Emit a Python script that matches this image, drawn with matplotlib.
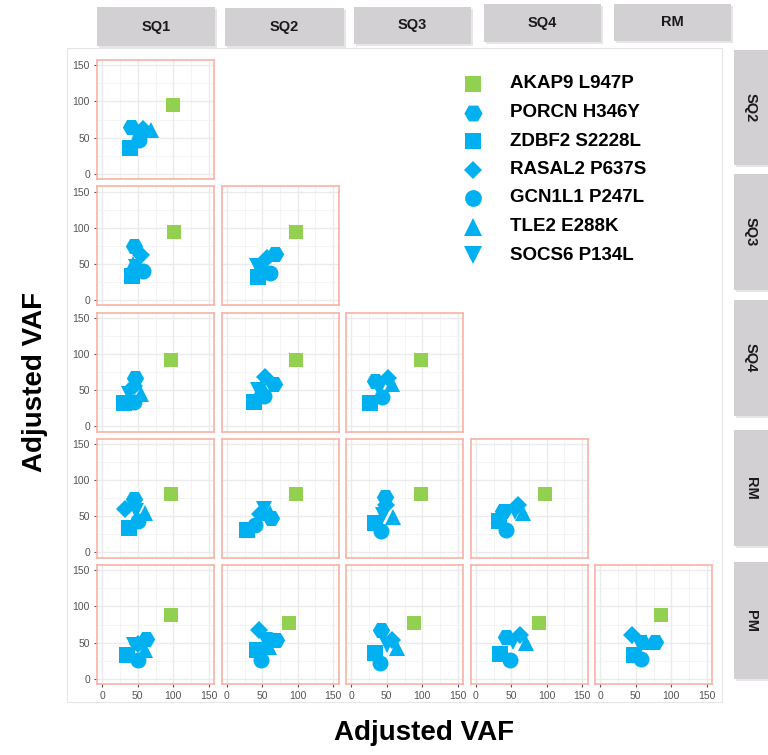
import matplotlib.pyplot as plt
from matplotlib.patches import Rectangle

plt.rcParams['font.family'] = ['Liberation Sans', 'DejaVu Sans']

# samples on the facet columns (x) and rows (y)
col_samples = ['SQ1', 'SQ2', 'SQ3', 'SQ4', 'RM']
row_samples = ['SQ2', 'SQ3', 'SQ4', 'RM', 'PM']

mutations = ['AKAP9 L947P', 'PORCN H346Y', 'ZDBF2 S2228L', 'RASAL2 P637S',
             'GCN1L1 P247L', 'TLE2 E288K', 'SOCS6 P134L']
shapes = ['s', 'H', 's', 'D', 'o', '^', 'v']
sizes = [10.5, 12.5, 11, 8.8, 11.5, 12, 12]
colors = ['#92D050'] + ['#00B0F0'] * 6

# adjusted VAF pairs (x sample, y sample), one point per mutation in the order above
sq2_sq1 = [(100, 95), (41, 65), (39, 36), (57, 62), (52, 46), (68, 60), (48, 55)]
sq3_sq1 = [(101, 94), (45, 74), (42, 33), (55, 62), (58, 40), (43, 50), (48, 46)]
sq3_sq2 = [(97, 94), (68, 63), (44, 32), (56, 58), (61, 37), (49, 53), (42, 47)]
sq4_sq1 = [(97, 92), (46, 67), (30, 32), (44, 56), (44, 33), (55, 44), (37, 44)]
sq4_sq2 = [(97, 92), (66, 58), (38, 33), (54, 68), (52, 42), (50, 55), (44, 50)]
sq4_sq3 = [(98, 92), (33, 62), (27, 32), (52, 66), (43, 40), (57, 58), (39, 51)]
rm_sq1 = [(97, 81), (44, 74), (37, 34), (32, 60), (51, 44), (60, 55), (48, 58)]
rm_sq2 = [(97, 81), (63, 47), (29, 31), (47, 53), (40, 38), (61, 55), (52, 60)]
rm_sq3 = [(98, 81), (47, 77), (33, 41), (49, 65), (42, 29), (59, 49), (45, 52)]
rm_sq4 = [(97, 81), (39, 58), (32, 44), (60, 65), (43, 31), (66, 54), (55, 56)]
pm_sq1 = [(97, 88), (62, 55), (35, 33), (51, 48), (51, 26), (60, 40), (44, 46)]
pm_sq2 = [(88, 77), (70, 53), (42, 40), (46, 67), (48, 26), (59, 44), (54, 53)]
pm_sq3 = [(88, 77), (42, 67), (34, 36), (57, 53), (41, 22), (64, 43), (50, 46)]
pm_sq4 = [(89, 77), (43, 57), (34, 34), (62, 60), (48, 26), (71, 49), (53, 51)]
pm_rm = [(85, 88), (77, 51), (47, 33), (44, 60), (58, 27), (65, 51), (54, 49)]

panels = [
    [sq2_sq1],
    [sq3_sq1, sq3_sq2],
    [sq4_sq1, sq4_sq2, sq4_sq3],
    [rm_sq1, rm_sq2, rm_sq3, rm_sq4],
    [pm_sq1, pm_sq2, pm_sq3, pm_sq4, pm_rm],
]

W, H = 768, 755
fig = plt.figure(figsize=(W / 100, H / 100), dpi=100)

# overlay in pixel units for strips, frame and legend
ov = fig.add_axes([0, 0, 1, 1], zorder=0)
ov.set_xlim(0, W)
ov.set_ylim(H, 0)
ov.axis('off')

ov.add_patch(Rectangle((67, 48), 655, 654, fill=False, ec='#E6E6E6', lw=0.8))

pw, ph = 117, 119
for i, row in enumerate(panels):
    for j, pts in enumerate(row):
        left = 97 + 124.5 * j
        top = 60 + 126.25 * i
        ax = fig.add_axes([left / W, 1 - (top + ph) / H, pw / W, ph / H], zorder=2)
        ax.set_xlim(-7.5, 157.5)
        ax.set_ylim(-7.5, 157.5)
        ax.set_xticks([0, 50, 100, 150])
        ax.set_yticks([0, 50, 100, 150])
        ax.set_xticks([25, 75, 125], minor=True)
        ax.set_yticks([25, 75, 125], minor=True)
        ax.grid(True, which='major', color='#EBEBEB', lw=1.0)
        ax.grid(True, which='minor', color='#F2F2F2', lw=0.6)
        ax.set_axisbelow(True)
        for sp in ax.spines.values():
            sp.set_color('#FBB1A5')
            sp.set_linewidth(1.2)
        ax.tick_params(which='minor', length=0)
        ax.tick_params(which='major', length=2.5, width=0.8, color='#555555',
                       labelsize=7.5, labelcolor='#555555', pad=2.5)
        if j != 0:
            ax.tick_params(axis='y', length=0, labelleft=False)
        if i != len(panels) - 1:
            ax.tick_params(axis='x', length=0, labelbottom=False)
        for (x, y), m, s, c in zip(pts, shapes, sizes, colors):
            ax.plot(x, y, ls='none', marker=m, ms=s, color=c, mew=0)

# facet strips
top_strips = [(97, 215, 7, 46), (225, 344, 8, 46), (354, 471, 7, 44),
              (484, 601, 4, 42), (614, 731, 4, 41)]
right_strips = [(50, 165), (174, 290), (300, 416), (430, 546), (562, 679)]

for lab, (x0, x1, y0, y1) in zip(col_samples, top_strips):
    ov.add_patch(Rectangle((x0 + 1.5, y0 + 1.5), x1 - x0, y1 - y0, color='#E6E6E6', lw=0))
    ov.add_patch(Rectangle((x0, y0), x1 - x0, y1 - y0, color='#D2D0D2', lw=0))
    ov.text((x0 + x1) / 2, (y0 + y1) / 2, lab, ha='center', va='center',
            fontsize=10.5, weight='bold', color='#1A1A1A')

for lab, (y0, y1) in zip(row_samples, right_strips):
    ov.add_patch(Rectangle((735.5, y0 + 1.5), 40, y1 - y0, color='#E6E6E6', lw=0))
    ov.add_patch(Rectangle((734, y0), 40, y1 - y0, color='#D2D0D2', lw=0))
    ov.text(751, (y0 + y1) / 2, lab, ha='center', va='center', rotation=-90,
            fontsize=10.5, weight='bold', color='#1A1A1A')

# legend
for k, (lab, m, s, c) in enumerate(zip(mutations, shapes, sizes, colors)):
    yy = 84 + 28.5 * k
    ov.plot(473, yy, ls='none', marker=m, ms=s * 1.05, color=c, mew=0)
    ov.text(510, yy, lab, ha='left', va='center', fontsize=13.5, weight='bold', color='black')

fig.text(424 / W, 1 - 733 / H, 'Adjusted VAF', ha='center', va='center',
         fontsize=20, weight='bold')
fig.text(35 / W, 1 - 382 / H, 'Adjusted VAF', ha='center', va='center',
         fontsize=20, weight='bold', rotation=90)

fig.savefig('out.png', dpi=100, facecolor='white')
